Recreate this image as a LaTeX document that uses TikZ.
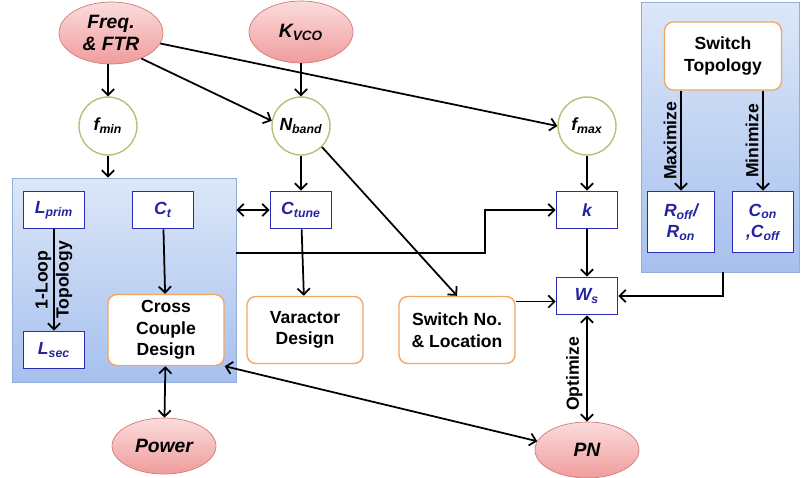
\documentclass[tikz,border=0pt]{standalone}
\usepackage{fontspec}
\setmainfont{Liberation Sans}
\usepackage{tikz}
\usetikzlibrary{shapes.geometric,arrows.meta}
\definecolor{pinktop}{HTML}{FBDCDC}
\definecolor{pinkbot}{HTML}{F09C9C}
\definecolor{redline}{HTML}{D27A78}
\definecolor{greenline}{HTML}{AFC47A}
\definecolor{blueline}{HTML}{2B2BB8}
\definecolor{bluetext}{HTML}{2424A0}
\definecolor{orangeline}{HTML}{F2A765}
\definecolor{paneltop}{HTML}{DCE7F8}
\definecolor{panelbot}{HTML}{A6C0EE}
\definecolor{panelline}{HTML}{93AEDA}
\tikzset{
  >={Straight Barb[length=3.5pt,width=7pt]},
  spec/.style={ellipse,draw=redline,top color=pinktop,bottom color=pinkbot,minimum width=2.08cm,minimum height=1.24cm,inner sep=0pt,align=center,font=\fontsize{11}{12.5}\selectfont\bfseries\itshape},
  param/.style={circle,draw=greenline,fill=white,line width=0.8pt,minimum size=1.16cm,inner sep=0pt,font=\fontsize{10}{12}\selectfont\bfseries\itshape},
  var/.style={rectangle,draw=blueline,fill=white,line width=0.9pt,minimum width=1.22cm,minimum height=0.74cm,inner sep=1pt,align=center,text=bluetext,font=\fontsize{10}{12}\selectfont\bfseries\itshape},
  design/.style={rectangle,rounded corners=5pt,draw=orangeline,fill=white,line width=0.8pt,minimum width=2.32cm,minimum height=1.34cm,align=center,font=\fontsize{10}{12.3}\selectfont\bfseries},
  panel/.style={rectangle,draw=panelline,top color=paneltop,bottom color=panelbot},
  arr/.style={->,line width=1pt},
  darr/.style={<->,line width=1pt},
  tag/.style={rotate=90,inner sep=2pt,font=\fontsize{10}{12}\selectfont\bfseries}
}
\newcommand{\link}[2]{\draw[arr] (#1) -- (#2);}

\begin{document}
\begin{tikzpicture}[x=0.02cm,y=-0.02cm]
  \useasboundingbox (0,0) rectangle (801,477);
  % panels
  \node[panel,minimum width=4.48cm,minimum height=4.08cm](lpanel) at (124,280) {};
  \node[panel,minimum width=3.16cm,minimum height=5.4cm](rpanel) at (720,137) {};

  % specs
  \node[spec](freq) at (111,33) {Freq.\\\& FTR};
  \node[spec](kvco) at (301,32) {K\textsubscript{VCO}};
  \node[spec,minimum height=1.12cm](power) at (164,446) {Power};
  \node[spec,minimum height=1.12cm](pn) at (587,450) {PN};

  % parameters
  \node[param](fmin) at (108,126) {f\textsubscript{min}};
  \node[param](nband) at (301,126) {N\textsubscript{band}};
  \node[param](fmax) at (587,126) {f\textsubscript{max}};

  % variables
  \node[var](lprim) at (54,210) {L\textsubscript{prim}};
  \node[var](ct) at (163,210) {C\textsubscript{t}};
  \node[var](ctune) at (301,210) {C\textsubscript{tune}};
  \node[var](k) at (587,210) {k};
  \node[var](ws) at (587,296) {W\textsubscript{s}};
  \node[var](lsec) at (54,350) {L\textsubscript{sec}};
  \node[var,minimum width=1.34cm,minimum height=1.22cm](roff) at (681,222) {R\textsubscript{off}/\\R\textsubscript{on}};
  \node[var,minimum height=1.22cm](con) at (763,222) {C\textsubscript{on}\\,C\textsubscript{off}};

  % designs
  \node[design](cross) at (166,330) {Cross\\Couple\\Design};
  \node[design](varactor) at (305,330) {Varactor\\Design};
  \node[design](swno) at (457,330) {Switch No.\\\& Location};
  \node[design,minimum width=2.34cm,minimum height=1.36cm](swtop) at (723,56) {Switch\\Topology};

  \coordinate (brk) at (485,253);
  \coordinate (rdrop) at (723,272);

  % connectors
  \draw[arr] (freq.south -| fmin) -- (fmin);
  \draw[arr] (freq.-40) -- (nband.170);
  \draw[arr] (freq.-12) -- (fmax.west);
  \link{kvco}{nband}
  \draw[arr] (fmin) -- (fmin |- lpanel.north);
  \link{nband}{ctune}
  \draw[arr] (nband.-45) -- (swno.north);
  \link{fmax}{k}
  \draw[darr] (lpanel.east |- ctune) -- (ctune.west);
  \draw[arr] (lpanel.east |- brk) -- (brk) |- (k.west);
  \draw[arr] (lprim) -- node[tag,align=center]{1-Loop\\Topology} (lsec);
  \link{ct}{cross}
  \link{ctune}{varactor}
  \link{k}{ws}
  \draw[arr] (swno.east |- ws.190) -- (ws.190);
  \draw[arr] (rdrop) |- (ws.east);
  \draw[arr] (swtop.south -| roff) -- node[tag,anchor=south]{Maximize} (roff);
  \draw[arr] (swtop.south -| con) -- node[tag,anchor=south]{Minimize} (con);
  \draw[darr] (ws) -- node[tag,anchor=south,pos=0.55]{Optimize} (pn);
  \draw[darr] (cross) -- (power);
  \draw[darr] (cross.south east) -- (pn.170);
\end{tikzpicture}
\end{document}
